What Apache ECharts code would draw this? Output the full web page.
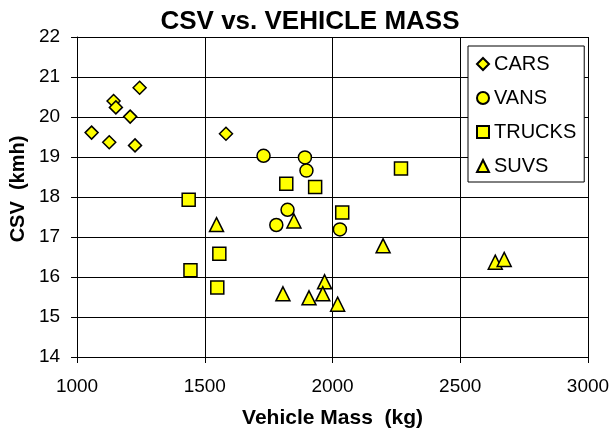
<!DOCTYPE html>
<html>
<head>
<meta charset="utf-8">
<script src="https://cdn.jsdelivr.net/npm/echarts@6/dist/echarts.min.js"></script>
<style>
html,body{margin:0;padding:0;background:#fff;}
#chart{width:613px;height:436px;}
</style>
</head>
<body>
<div id="chart"></div>
<script>
var carsX = [1057, 1126, 1143, 1152, 1208, 1227, 1245, 1583];
var carsY = [19.61, 19.37, 20.40, 20.24, 20.01, 19.29, 20.73, 19.58];
var vansX = [1730, 1892, 1898, 1824, 1780, 2029];
var vansY = [19.03, 18.99, 18.66, 17.68, 17.30, 17.19];
var trucksX = [1437, 2268, 1819, 1932, 2038, 1557, 1444, 1549];
var trucksY = [17.93, 18.71, 18.33, 18.25, 17.61, 16.58, 16.17, 15.74];
var suvsX = [1546, 1849, 2198, 1969, 1806, 1962, 1908, 2020, 2637, 2672];
var suvsY = [17.31, 17.40, 16.78, 15.88, 15.58, 15.58, 15.48, 15.32, 16.37, 16.44];
var seriesNames = ['CARS', 'VANS', 'TRUCKS', 'SUVS'];
var xTicks = {min: 1000, max: 3000, interval: 500};
var yTicks = {min: 14, max: 22, interval: 1};

function pairs(xs, ys) { return xs.map(function (x, i) { return [x, ys[i]]; }); }

var FONT = 'Liberation Sans, Arial, sans-serif';
var symbols = ['diamond', 'circle', 'rect', 'triangle'];
var sizes = [13, 13, 13, 14];
var datas = [pairs(carsX, carsY), pairs(vansX, vansY), pairs(trucksX, trucksY), pairs(suvsX, suvsY)];

var chart = echarts.init(document.getElementById('chart'), null, {renderer: 'canvas'});
chart.setOption({
  animation: false,
  backgroundColor: '#fff',
  title: {
    text: 'CSV vs. VEHICLE MASS',
    left: 305, top: 4, textAlign: 'center',
    textStyle: {fontFamily: FONT, fontSize: 26, fontWeight: 'bold', color: '#000'}
  },
  grid: {left: 76, right: 25, top: 37, bottom: 79},
  legend: {
    orient: 'vertical',
    left: 468, top: 46,
    data: seriesNames,
    itemWidth: 12, itemHeight: 12,
    itemGap: 14,
    padding: [8, 8, 6, 8],
    backgroundColor: '#fff',
    borderColor: '#000', borderWidth: 1,
    textStyle: {fontFamily: FONT, fontSize: 20, color: '#000'}
  },
  xAxis: {
    type: 'value', min: xTicks.min, max: xTicks.max, interval: xTicks.interval,
    name: 'Vehicle Mass  (kg)', nameLocation: 'middle', nameGap: 51,
    nameTextStyle: {fontFamily: FONT, fontSize: 21, fontWeight: 'bold', color: '#000'},
    axisLine: {lineStyle: {color: '#000', width: 1}},
    axisTick: {show: true, inside: false, length: 6, lineStyle: {color: '#000'}},
    axisLabel: {fontFamily: FONT, fontSize: 19, color: '#000', margin: 20,
      formatter: function (v) { return String(v); }},
    splitLine: {show: true, lineStyle: {color: '#000', width: 1}}
  },
  yAxis: {
    type: 'value', min: yTicks.min, max: yTicks.max, interval: yTicks.interval,
    name: 'CSV  (kmh)', nameLocation: 'middle', nameGap: 43,
    nameTextStyle: {fontFamily: FONT, fontSize: 20, fontWeight: 'bold', color: '#000', padding: [0, 0, 0, 16]},
    axisLine: {show: true, lineStyle: {color: '#000', width: 1}},
    axisTick: {show: true, inside: false, length: 6, lineStyle: {color: '#000'}},
    axisLabel: {fontFamily: FONT, fontSize: 19, color: '#000', margin: 17,
      formatter: function (v) { return String(v); }},
    splitLine: {show: true, lineStyle: {color: '#000', width: 1}}
  },
  series: seriesNames.map(function (n, i) {
    return {
      name: n, type: 'scatter', symbol: symbols[i], symbolSize: sizes[i],
      data: datas[i],
      itemStyle: {color: '#ffff00', borderColor: '#000', borderWidth: 1.5, opacity: 1},
      emphasis: {disabled: true}
    };
  })
});
</script>
</body>
</html>
